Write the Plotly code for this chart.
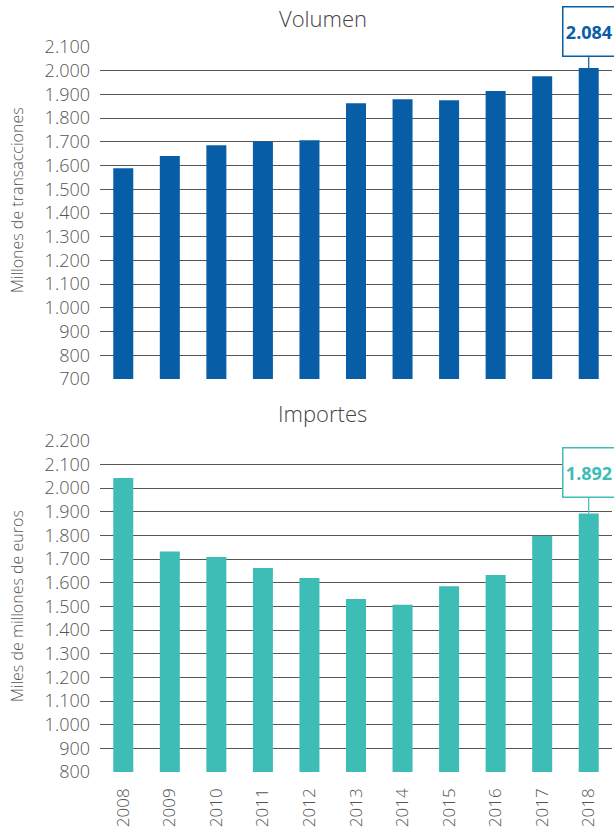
import plotly.graph_objects as go

years = ["2008", "2009", "2010", "2011", "2012", "2013", "2014", "2015", "2016", "2017", "2018"]
volumen = [1589, 1640, 1686, 1702, 1707, 1863, 1880, 1876, 1914, 1977, 2011]
importes = [2042, 1732, 1708, 1662, 1620, 1531, 1507, 1585, 1632, 1798, 1892]
volumen_label = "2.084"
importes_label = "1.892"

blue = "#075ea6"
teal = "#3dbdb6"
grey = "#555555"
font_family = "Open Sans"

fig = go.Figure()
fig.add_trace(go.Bar(x=years, y=volumen, width=0.43, marker_color=blue, marker_line_width=0,
                     xaxis="x", yaxis="y"))
fig.add_trace(go.Bar(x=years, y=importes, width=0.43, marker_color=teal, marker_line_width=0,
                     xaxis="x2", yaxis="y2"))

xcommon = dict(type="category", range=[-0.5, 10.5], showgrid=False, showline=False, zeroline=False,
               ticks="", automargin=False, domain=[0, 1])
ycommon = dict(showgrid=True, gridcolor=grey, gridwidth=1, zeroline=False, showline=False,
               ticks="", dtick=100, tickformat=",d", ticklabelstandoff=9, automargin=False,
               tickfont=dict(size=18, color=grey))

fig.update_layout(
    width=614, height=833,
    margin=dict(l=100, r=2, t=47, b=61),
    paper_bgcolor="white", plot_bgcolor="white",
    showlegend=False,
    separators=",.",
    font=dict(family=font_family, color=grey, size=17, weight=300),
    xaxis=dict(xcommon, anchor="y", showticklabels=False),
    yaxis=dict(ycommon, anchor="x", domain=[0.542, 1.0], range=[700, 2100]),
    xaxis2=dict(xcommon, anchor="y2", tickangle=-90, ticklabelstandoff=12,
                tickfont=dict(size=17, color=grey)),
    yaxis2=dict(ycommon, anchor="x2", domain=[0.0, 0.457], range=[800, 2200]),
)

# titles
fig.add_annotation(text="Volumen", xref="paper", yref="paper", x=0.435, y=1.0, yshift=29,
                   xanchor="center", yanchor="middle", showarrow=False,
                   font=dict(size=22, color="#444444"))
fig.add_annotation(text="Importes", xref="paper", yref="paper", x=0.435, y=0.457, yshift=28,
                   xanchor="center", yanchor="middle", showarrow=False,
                   font=dict(size=22, color="#444444"))
# axis titles
fig.add_annotation(text="Millones de transacciones", xref="paper", yref="paper",
                   x=-0.162, y=0.789, xanchor="center", yanchor="middle", textangle=-90,
                   showarrow=False, font=dict(size=16, color=grey))
fig.add_annotation(text="Miles de millones de euros", xref="paper", yref="paper",
                   x=-0.162, y=0.229, xanchor="center", yanchor="middle", textangle=-90,
                   showarrow=False, font=dict(size=16, color=grey))

# callouts
last = len(years) - 1
fig.add_annotation(x=last, y=volumen[last], xref="x", yref="y", text="<b>" + volumen_label + "</b>",
                   showarrow=True, arrowhead=0, arrowcolor=blue, arrowwidth=1.2, ax=0, ay=-37,
                   bordercolor=blue, borderwidth=1.5, borderpad=0, bgcolor="white",
                   width=51, height=48, font=dict(size=18, color=blue, weight=700))
fig.add_annotation(x=last, y=importes[last], xref="x2", yref="y2", text="<b>" + importes_label + "</b>",
                   showarrow=True, arrowhead=0, arrowcolor=teal, arrowwidth=1.2, ax=0, ay=-41,
                   bordercolor=teal, borderwidth=1.5, borderpad=0, bgcolor="white",
                   width=51, height=48, font=dict(size=18, color=teal, weight=700))

fig.write_html("out.html", config={"displayModeBar": False},
               post_script="document.body.style.margin='0';")
